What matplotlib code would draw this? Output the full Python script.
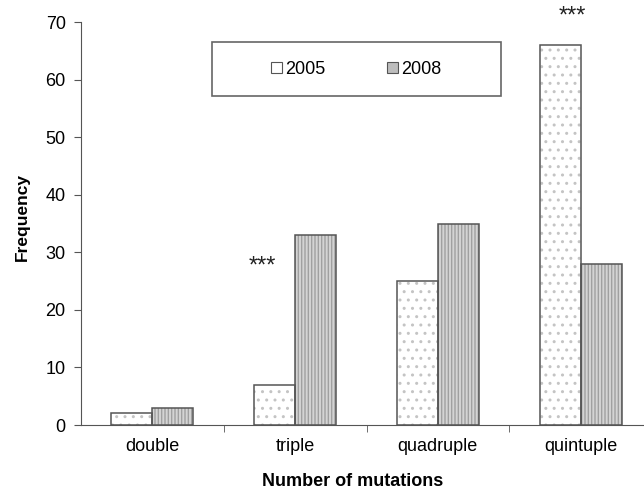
import numpy as np
import matplotlib.pyplot as plt
from matplotlib.patches import Rectangle, Patch

plt.rcParams['font.family'] = ['Liberation Sans', 'DejaVu Sans']

# data
categories = ["double", "triple", "quadruple", "quintuple"]
freq_2005 = [2, 7, 25, 66]
freq_2008 = [3, 33, 35, 28]
years = ["2005", "2008"]
# significance marks: category index, height of mark, shift left of the centre
star_cat = [1, 3]
star_y = [27.5, 71.0]
star_dx = [-0.23, -0.06]

fig = plt.figure(figsize=(6.44, 4.91), dpi=100)
ax = fig.add_axes([0.1258, 0.1344, 1.0124 - 0.1258, 0.8207])

x = np.arange(len(categories))
w = 0.287
edge = "#555555"

# hatch layers first (edgecolor gives the hatch colour), outlines on top
ax.bar(x - w / 2, freq_2005, w, color="white", edgecolor="#c4c4c4", hatch="..", linewidth=0)
ax.bar(x + w / 2, freq_2008, w, color="#d4d4d4", edgecolor="#a0a0a0", hatch="|||||", linewidth=0)
ax.bar(x - w / 2, freq_2005, w, fill=False, edgecolor=edge, linewidth=1.1)
ax.bar(x + w / 2, freq_2008, w, fill=False, edgecolor=edge, linewidth=1.1)

for i, h, dx in zip(star_cat, star_y, star_dx):
    ax.text(x[i] + dx, h, "***", ha="center", va="center", fontsize=17,
            color="#222222", clip_on=False)

ax.set_xlim(-0.5, len(categories) - 0.5)
ax.set_ylim(0, 70)
ax.set_yticks(np.arange(0, 71, 10))
ax.set_xticks(x)
ax.set_xticklabels(categories)
ax.set_xticks(np.arange(0.5, len(categories) - 0.5, 1), minor=True)
ax.tick_params(axis="x", which="major", length=0, pad=9, labelsize=13)
ax.tick_params(axis="x", which="minor", length=5, direction="out", color=edge)
ax.tick_params(axis="y", length=5, direction="out", color=edge, labelsize=13, pad=6)

for s in ["top", "right"]:
    ax.spines[s].set_visible(False)
for s in ["left", "bottom"]:
    ax.spines[s].set_color(edge)

ax.set_ylabel("Frequency", fontsize=12.5, fontweight="bold")
ax.yaxis.set_label_coords(-0.09, 0.515)
ax.set_xlabel("Number of mutations", fontsize=13, fontweight="bold")
ax.xaxis.set_label_coords(0.475, -0.12)

# legend box
ax.add_patch(Rectangle((0.229, 0.816), 0.506, 0.134, transform=ax.transAxes,
                       facecolor="white", edgecolor="#666666", linewidth=1.2, zorder=3))
handles = [Patch(facecolor="white", edgecolor=edge, linewidth=0.8),
           Patch(facecolor="#bdbdbd", edgecolor=edge, linewidth=0.8)]
leg = ax.legend(handles, years, loc="center", bbox_to_anchor=(0.229 + 0.253, 0.816 + 0.067),
                ncol=2, frameon=False, fontsize=13, handlelength=0.6, handleheight=0.6,
                handletextpad=0.2, columnspacing=3.4)
leg.set_zorder(4)

fig.savefig("out.png", dpi=100)
